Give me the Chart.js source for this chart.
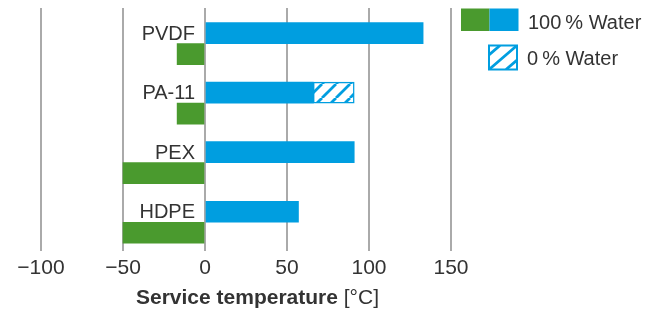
<!DOCTYPE html>
<html>
<head>
<meta charset="utf-8">
<script src="https://cdn.jsdelivr.net/npm/chart.js@4.4.1/dist/chart.umd.min.js"></script>
<style>
    html, body { margin: 0; padding: 0; background: #fff; }
    #wrap { width: 658px; height: 313px; }
</style>
</head>
<body>
<div id="wrap"><canvas id="chart"></canvas></div>
<script>
var categories = ['PVDF', 'PA-11', 'PEX', 'HDPE'];
var maxWet = [133, 66, 91, 57];        // upper limit, 100 % water
var maxDry = [null, 91, null, null];   // upper limit, 0 % water
var minTemp = [-17, -17, -50, -50];    // lower limit
var xTicks = [-100, -50, 0, 50, 100, 150];

var blue = '#009ee0';
var green = '#4a9a2e';
var textColor = '#333333';
var fontFamily = "'Helvetica Neue', Helvetica, 'Liberation Sans', Arial, sans-serif";

function makeHatch(size, width) {
    var c = document.createElement('canvas');
    c.width = size;
    c.height = size;
    var g = c.getContext('2d');
    g.fillStyle = '#ffffff';
    g.fillRect(0, 0, size, size);
    g.strokeStyle = blue;
    g.lineWidth = width;
    g.beginPath();
    for (var k = -1; k <= 1; k++) {
        g.moveTo(k * size, size);
        g.lineTo(k * size + size, 0);
    }
    g.stroke();
    return g.createPattern(c, 'repeat');
}

var dryRanges = maxDry.map((v, i) => v == null ? null : [maxWet[i], v]);

// category names, legend and axis title drawn on top of the chart
var extras = {
    id: 'extras',
    afterDatasetsDraw: function (chart) {
        var ctx = chart.ctx;
        var xScale = chart.scales.x;
        var meta = chart.getDatasetMeta(0);
        ctx.save();
        ctx.fillStyle = textColor;
        ctx.font = '20px ' + fontFamily;
        ctx.textAlign = 'right';
        ctx.textBaseline = 'alphabetic';
        var zeroX = xScale.getPixelForValue(0);
        categories.forEach(function (name, i) {
            var bar = meta.data[i];
            ctx.fillText(name, zeroX - 10, bar.y + 6.5);
        });

        // legend
        ctx.textAlign = 'left';
        ctx.fillStyle = green;
        ctx.fillRect(461, 8.5, 28.5, 22.5);
        ctx.fillStyle = blue;
        ctx.fillRect(489.5, 8.5, 29, 22.5);
        ctx.fillStyle = textColor;
        ctx.fillText('100\u2009% Water', 528, 28.5);

        var bx = 489, by = 45.5, bw = 28, bh = 24;
        ctx.save();
        ctx.beginPath();
        ctx.rect(bx, by, bw, bh);
        ctx.clip();
        ctx.fillStyle = '#ffffff';
        ctx.fillRect(bx, by, bw, bh);
        ctx.strokeStyle = blue;
        ctx.lineWidth = 2.8;
        ctx.beginPath();
        for (var k = -1; k <= 1; k++) {
            ctx.moveTo(bx + k * 17, by + bh);
            ctx.lineTo(bx + k * 17 + bw, by);
        }
        ctx.stroke();
        ctx.restore();
        ctx.strokeStyle = blue;
        ctx.lineWidth = 2;
        ctx.strokeRect(bx, by, bw, bh);
        ctx.fillStyle = textColor;
        ctx.fillText('0\u2009% Water', 527, 65);

        // axis title, bold part plus unit
        var titleX = 136, titleY = 304;
        ctx.font = 'bold 21px ' + fontFamily;
        var bold = 'Service temperature';
        ctx.fillText(bold, titleX, titleY);
        var w = ctx.measureText(bold + ' ').width;
        ctx.font = '21px ' + fontFamily;
        ctx.fillText('[°C]', titleX + w, titleY);
        ctx.restore();
    }
};

var ctx = document.getElementById('chart').getContext('2d');
var hatch = makeHatch(14, 2.8);

new Chart(ctx, {
    type: 'bar',
    data: {
        labels: categories.map((c, i) => i),
        datasets: [{
            label: '100 % Water',
            data: maxWet,
            backgroundColor: blue,
            barThickness: 21,
            stack: 'upper'
        }, {
            label: '0 % Water',
            data: dryRanges,
            backgroundColor: hatch,
            borderColor: blue,
            borderWidth: 1.5,
            borderSkipped: false,
            barThickness: 21,
            stack: 'upper'
        }, {
            label: '100 % Water (min)',
            data: minTemp,
            backgroundColor: green,
            barThickness: 21,
            stack: 'lower'
        }]
    },
    options: {
        indexAxis: 'y',
        responsive: true,
        maintainAspectRatio: false,
        animation: false,
        layout: {
            padding: { left: 41, right: 207, top: 8, bottom: 27 }
        },
        scales: {
            x: {
                type: 'linear',
                min: xTicks[0],
                max: xTicks[xTicks.length - 1],
                stacked: false,
                afterBuildTicks: function (scale) {
                    scale.ticks = xTicks.map(v => ({ value: v }));
                },
                grid: {
                    color: '#aaaaaa',
                    lineWidth: 2,
                    drawTicks: false
                },
                border: { display: false },
                ticks: {
                    padding: 5,
                    color: textColor,
                    font: { family: fontFamily, size: 21 },
                    callback: function (value) {
                        return value < 0 ? '\u2212' + Math.abs(value) : String(value);
                    }
                }
            },
            y: {
                type: 'linear',
                reverse: true,
                offset: false,
                min: -0.597,
                max: 3.479,
                display: false
            }
        },
        plugins: {
            legend: { display: false },
            tooltip: {
                callbacks: {
                    title: function (items) {
                        return categories[items[0].dataIndex];
                    }
                }
            }
        }
    },
    plugins: [extras]
});
</script>
</body>
</html>
